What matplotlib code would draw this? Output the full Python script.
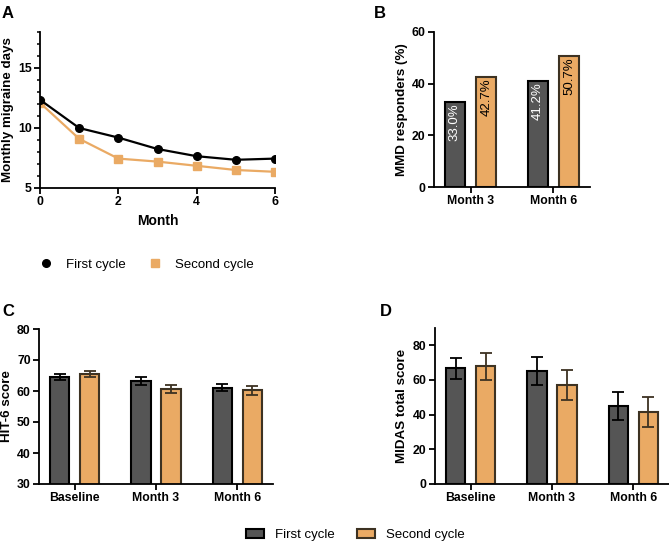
import numpy as np
import matplotlib.pyplot as plt
from matplotlib.patches import Patch
from matplotlib.lines import Line2D

plt.rcParams['font.family'] = ['Liberation Sans', 'DejaVu Sans']

# Panel A - monthly migraine days
months = [0, 1, 2, 3, 4, 5, 6]
mmd_first = [12.35, 10.0, 9.2, 8.25, 7.65, 7.35, 7.45]
mmd_second = [12.1, 9.1, 7.45, 7.2, 6.85, 6.5, 6.35]

# Panel B - MMD responders
resp_labels = ['Month 3', 'Month 6']
resp_first = [33.0, 41.2]
resp_second = [42.7, 50.7]

# Panel C - HIT-6
score_labels = ['Baseline', 'Month 3', 'Month 6']
hit_first = [64.6, 63.2, 61.0]
hit_first_err = [1.0, 1.2, 1.1]
hit_second = [65.5, 60.6, 60.2]
hit_second_err = [1.0, 1.3, 1.5]

# Panel D - MIDAS
midas_first = [66.8, 65.1, 44.8]
midas_first_err = [6.0, 8.0, 8.0]
midas_second = [67.8, 57.0, 41.5]
midas_second_err = [8.0, 8.6, 8.5]

series_names = ['First cycle', 'Second cycle']

DARK = '#555555'
ORANGE = '#EAAA64'
BROWN = '#3d3222'

W, H = 669, 545
fig = plt.figure(figsize=(W / 100, H / 100), dpi=100)


def box(l, r, top, bot):
    return [l / W, 1 - bot / H, (r - l) / W, (bot - top) / H]


def style(ax, label, right_px):
    for s in ['top', 'right']:
        ax.spines[s].set_visible(False)
    for s in ['left', 'bottom']:
        ax.spines[s].set_linewidth(1.3)
    ax.tick_params(width=1.3, length=4, labelsize=8.8, pad=2)
    for t in ax.get_xticklabels() + ax.get_yticklabels():
        t.set_fontweight('bold')
    ax.set_ylabel(label, fontsize=9.6, fontweight='bold')
    # place label so its right edge sits at right_px (figure pixels)
    l = ax.get_position().x0 * W
    w = ax.get_position().width * W
    ax.yaxis.set_label_coords((right_px - l) / w, 0.5)


def bars(ax, first, second, ferr=None, serr=None, width=0.235, off=0.185):
    x = np.arange(len(first))
    ax.bar(x - off, first, width, color=DARK, edgecolor='black', linewidth=1.5,
           yerr=ferr, error_kw=dict(ecolor='black', elinewidth=1.3, capsize=4, capthick=1.3))
    ax.bar(x + off, second, width, color=ORANGE, edgecolor=BROWN, linewidth=1.5,
           yerr=serr, error_kw=dict(ecolor=BROWN, elinewidth=1.3, capsize=4, capthick=1.3))
    ax.set_xlim(-0.44, len(first) - 1 + 0.44)
    return x


# A
axA = fig.add_axes(box(40, 275, 32, 188))
axA.plot(months, mmd_first, color='black', lw=1.6, marker='o', ms=5.5, zorder=3)
axA.plot(months, mmd_second, color=ORANGE, lw=1.6, marker='s', ms=5.5, zorder=2)
axA.set_xlim(0, 6)
axA.set_ylim(5, 18)
axA.set_xticks([0, 2, 4, 6])
axA.set_yticks([5, 10, 15])
axA.set_yticks(np.arange(5, 18.1, 1), minor=True)
axA.tick_params(which='minor', length=2.5, width=1.1)
axA.set_xlabel('Month', fontsize=10, fontweight='bold', labelpad=4)
for sp in axA.spines.values():
    sp.set_clip_on(False)
style(axA, 'Monthly migraine days', 14)
handlesA = [Line2D([], [], color='black', marker='o', ls='', ms=5.5),
            Line2D([], [], color=ORANGE, marker='s', ls='', ms=5.5)]
axA.legend(handlesA, series_names, loc='center', bbox_to_anchor=(0.44, -0.49),
           ncol=2, frameon=False, fontsize=9.5, handletextpad=0.5, columnspacing=1.2)

# B
axB = fig.add_axes(box(434, 590, 32, 187))
xb = bars(axB, resp_first, resp_second, width=0.24, off=0.19)
axB.set_ylim(0, 60)
axB.set_yticks([0, 20, 40, 60])
axB.set_xticks(xb)
axB.set_xticklabels(resp_labels)
for i in range(len(xb)):
    axB.text(xb[i] - 0.19, resp_first[i] - 0.6, f'{resp_first[i]:.1f}%', rotation=90,
             ha='center', va='top', color='white', fontsize=9.5)
    axB.text(xb[i] + 0.19, resp_second[i] - 0.6, f'{resp_second[i]:.1f}%', rotation=90,
             ha='center', va='top', color='black', fontsize=9.5)
style(axB, 'MMD responders (%)', 408)

# C
axC = fig.add_axes(box(39, 273, 329, 484))
xc = bars(axC, hit_first, hit_second, hit_first_err, hit_second_err)
axC.set_ylim(30, 80)
axC.set_yticks(np.arange(30, 81, 10))
axC.set_xticks(xc)
axC.set_xticklabels(score_labels)
style(axC, 'HIT-6 score', 13)

# D
axD = fig.add_axes(box(435, 669, 328, 484))
xd = bars(axD, midas_first, midas_second, midas_first_err, midas_second_err)
axD.set_ylim(0, 90)
axD.set_yticks(np.arange(0, 81, 20))
axD.set_xticks(xd)
axD.set_xticklabels(score_labels)
style(axD, 'MIDAS total score', 408)

# panel letters
for lab, (px, py) in zip('ABCD', [(2, 14), (374, 14), (2, 312), (380, 312)]):
    fig.text(px / W, 1 - py / H, lab, fontsize=12, fontweight='bold', va='center')

# shared legend
handles = [Patch(facecolor=DARK, edgecolor='black', lw=1.5),
           Patch(facecolor=ORANGE, edgecolor=BROWN, lw=1.5)]
fig.legend(handles, series_names, loc='center', bbox_to_anchor=(355 / W, 1 - 535 / H),
           ncol=2, frameon=False, fontsize=9.5, handlelength=1.4, handleheight=0.6,
           handletextpad=0.8, columnspacing=1.7)

fig.savefig('out.png', dpi=100)
